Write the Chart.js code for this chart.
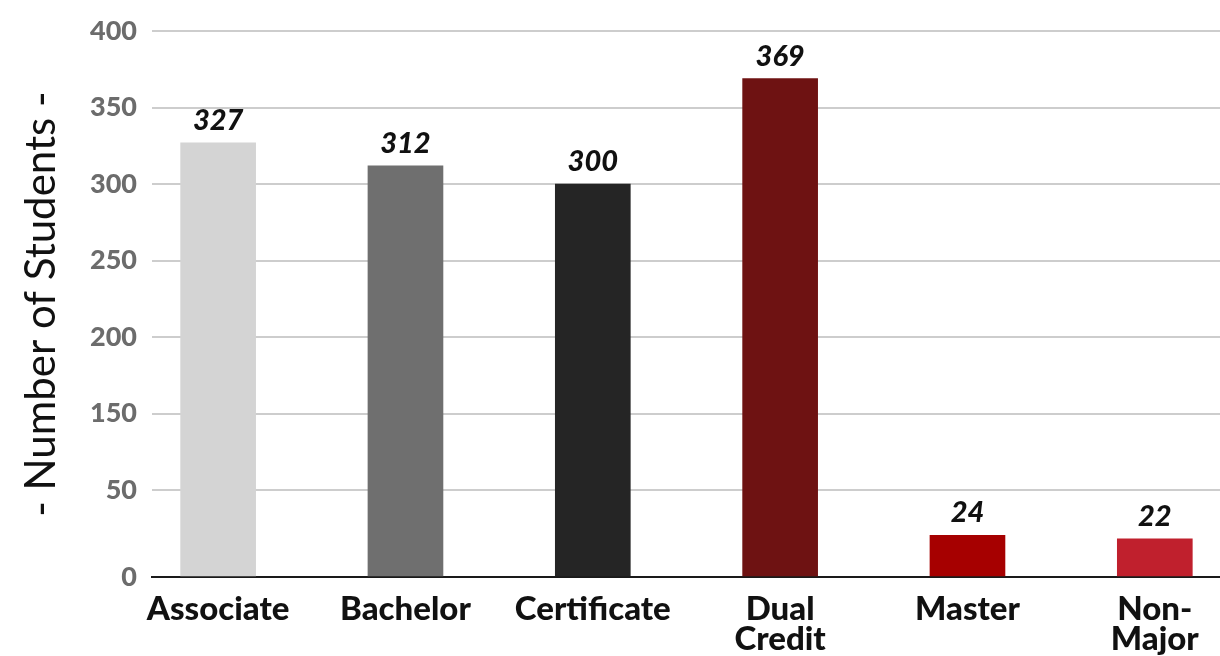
<!DOCTYPE html>
<html>
<head>
<meta charset="utf-8">
<script src="https://cdn.jsdelivr.net/npm/chart.js@4.4.1/dist/chart.umd.min.js"></script>
<style>
  html, body { margin: 0; padding: 0; background: #ffffff; }
  #wrap { width: 1220px; height: 656px; position: relative; }
</style>
</head>
<body>
<div id="wrap"><canvas id="chart" width="1220" height="656"></canvas></div>
<script>
// Enrolment by program type
const CATEGORIES = ['Associate', 'Bachelor', 'Certificate', 'Dual Credit', 'Master', 'Non-Major'];
const X_LABELS = [['Associate'], ['Bachelor'], ['Certificate'], ['Dual', 'Credit'], ['Master'], ['Non-', 'Major']];
const STUDENTS = [327, 312, 300, 369, 24, 22];
const BAR_COLORS = ['#d4d4d4', '#6f6f6f', '#252525', '#6e1212', '#a60000', '#c0202d'];
const Y_TICKS = [0, 50, 150, 200, 250, 300, 350, 400];

// Value axis with evenly spaced gridlines at the listed ticks (the 100 step is skipped,
// and the lowest band is drawn a little taller than the rest).
const BAND_WEIGHTS = [1.137, 1, 1, 1, 1, 1, 1];

class SteppedScale extends Chart.LinearScale {
  buildTicks() {
    return Y_TICKS.map(v => ({ value: v }));
  }
  _band(value) {
    const t = Y_TICKS;
    let i = 0;
    while (i < t.length - 2 && value > t[i + 1]) i++;
    return i;
  }
  getPixelForValue(value) {
    const t = Y_TICKS;
    const total = BAND_WEIGHTS.reduce((a, b) => a + b, 0);
    const v = Math.max(t[0], Math.min(t[t.length - 1], value));
    const i = this._band(v);
    let cum = 0;
    for (let k = 0; k < i; k++) cum += BAND_WEIGHTS[k];
    const frac = (v - t[i]) / (t[i + 1] - t[i]);
    const pos = (cum + frac * BAND_WEIGHTS[i]) / total;
    return this.bottom - pos * (this.bottom - this.top);
  }
  getValueForPixel(pixel) {
    const t = Y_TICKS;
    const total = BAND_WEIGHTS.reduce((a, b) => a + b, 0);
    let pos = (this.bottom - pixel) / (this.bottom - this.top) * total;
    for (let i = 0; i < BAND_WEIGHTS.length; i++) {
      if (pos <= BAND_WEIGHTS[i] || i === BAND_WEIGHTS.length - 1) {
        return t[i] + (pos / BAND_WEIGHTS[i]) * (t[i + 1] - t[i]);
      }
      pos -= BAND_WEIGHTS[i];
    }
    return t[t.length - 1];
  }
}
SteppedScale.id = 'stepped';
SteppedScale.defaults = Chart.LinearScale.defaults;
Chart.register(SteppedScale);

// Value printed above each bar
const valueLabels = {
  id: 'valueLabels',
  afterDatasetsDraw(chart) {
    const ctx = chart.ctx;
    const meta = chart.getDatasetMeta(0);
    ctx.save();
    ctx.font = 'italic 900 29px Lato, "Open Sans", sans-serif';
    ctx.fillStyle = '#111111';
    ctx.textAlign = 'center';
    ctx.textBaseline = 'alphabetic';
    meta.data.forEach((bar, i) => {
      ctx.fillText(String(STUDENTS[i]), bar.x, bar.y - 13);
    });
    ctx.restore();
  }
};

new Chart(document.getElementById('chart'), {
  type: 'bar',
  data: {
    datasets: [{
      data: STUDENTS.map((v, i) => ({ x: i, y: v })),
      backgroundColor: BAR_COLORS,
      borderWidth: 0,
      barThickness: 75
    }]
  },
  options: {
    responsive: false,
    animation: false,
    layout: { padding: { top: 30, right: 0, left: 0, bottom: 0 } },
    plugins: {
      legend: { display: false },
      tooltip: { enabled: false }
    },
    scales: {
      x: {
        type: 'linear',
        offset: false,
        min: -0.353,
        max: 5.348,
        grid: { display: false, offset: false },
        border: { display: true, color: '#1a1a1a', width: 2 },
        afterBuildTicks(scale) {
          scale.ticks = CATEGORIES.map((_, i) => ({ value: i }));
        },
        afterFit(scale) { scale.height = 79; },
        ticks: {
          autoSkip: false,
          maxRotation: 0,
          padding: 9,
          color: '#111111',
          font: { family: 'Lato, "Open Sans", sans-serif', size: 33, weight: 900, lineHeight: 0.92 },
          callback: (value) => X_LABELS[value]
        }
      },
      y: {
        type: 'stepped',
        min: 0,
        max: 400,
        grid: {
          color: (c) => (c.tick && c.tick.value === 0) ? 'rgba(0,0,0,0)' : '#cdcdcd',
          lineWidth: 2,
          drawTicks: false
        },
        border: { display: false },
        afterFit(scale) { scale.width = 152; },
        ticks: {
          padding: 15,
          color: '#6c6c6c',
          font: { family: 'Lato, "Open Sans", sans-serif', size: 27, weight: 900 }
        },
        title: {
          display: true,
          text: '- Number of Students -',
          color: '#111111',
          font: { family: 'Lato, "Open Sans", sans-serif', size: 42, weight: 'normal', lineHeight: 1.1 },
          padding: { top: 18, bottom: 0 }
        }
      }
    }
  },
  plugins: [valueLabels]
});
</script>
</body>
</html>
